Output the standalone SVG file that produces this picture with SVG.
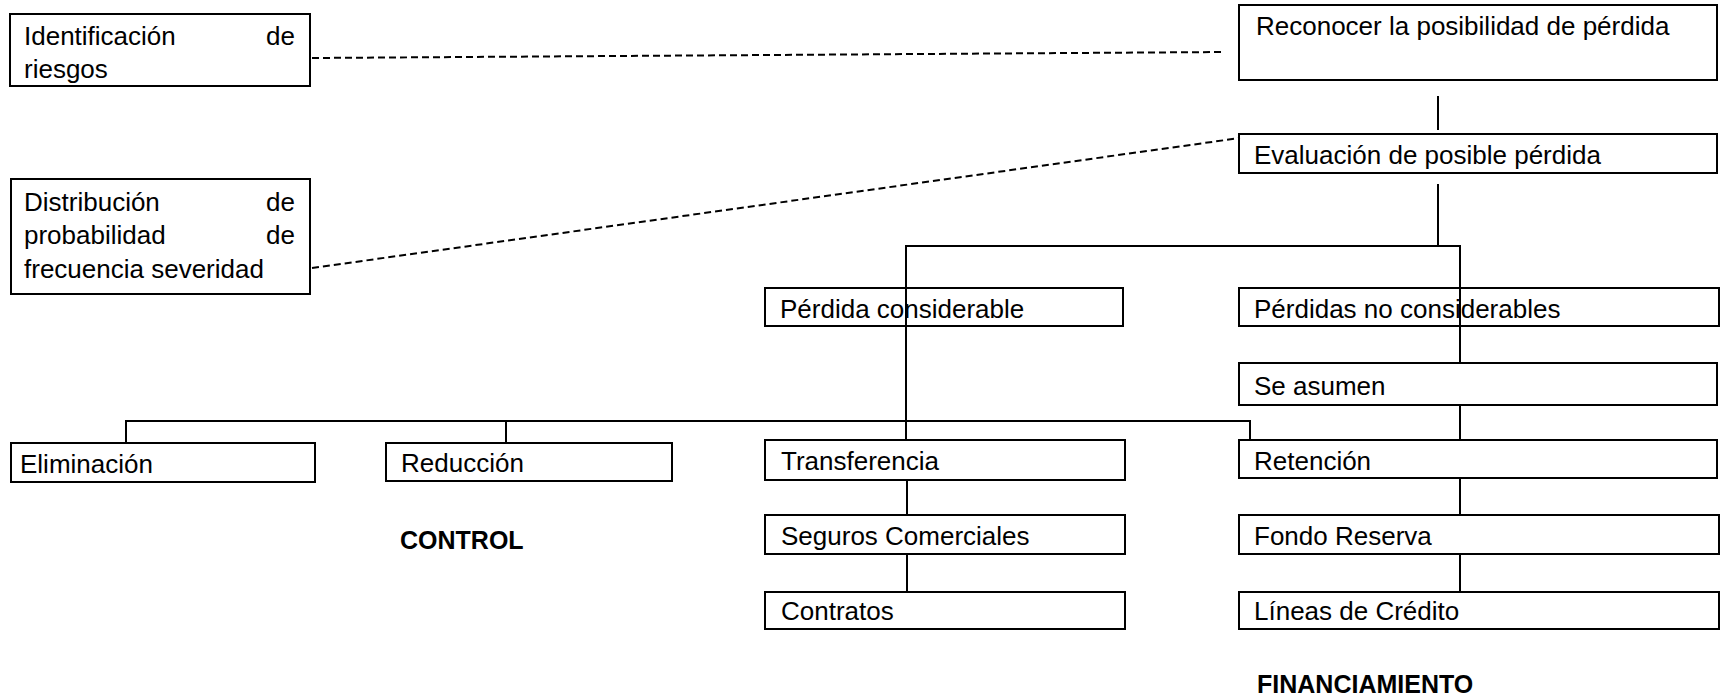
<svg xmlns="http://www.w3.org/2000/svg" width="1724" height="700" viewBox="0 0 1724 700">
<style>
  rect.box { fill: none; stroke: #000; stroke-width: 2; }
  text { font-family: "Liberation Sans", Arial, sans-serif; font-size: 26px; fill: #000; }
  text.bold { font-weight: bold; font-size: 25px; }
  .conn line, .conn polyline { stroke: #000; stroke-width: 2; fill: none; }
  .conn .dash { stroke-dasharray: 7 4; }
</style>
<rect width="1724" height="700" fill="#fff"/>
<g class="conn" id="connectors">
  <line class="dash" x1="312" y1="58" x2="1224" y2="52"/>
  <line class="dash" x1="312" y1="268" x2="1240" y2="138"/>
  <line x1="1438" y1="96" x2="1438" y2="130"/>
  <line x1="1438" y1="184" x2="1438" y2="246"/>
  <polyline points="906,440 906,246 1460,246 1460,363"/>
  <polyline points="126,443 126,421 1250,421 1250,440"/>
  <line x1="506" y1="421" x2="506" y2="443"/>
  <line x1="1460" y1="405" x2="1460" y2="440"/>
  <line x1="1460" y1="478" x2="1460" y2="515"/>
  <line x1="1460" y1="554" x2="1460" y2="592"/>
  <line x1="907" y1="480" x2="907" y2="515"/>
  <line x1="907" y1="554" x2="907" y2="592"/>
</g>
<g id="n-identificacion">
  <rect class="box" x="10" y="14" width="300" height="72"/>
  <text x="24" y="45">Identificación</text>
  <text x="295" y="45" text-anchor="end">de</text>
  <text x="24" y="78">riesgos</text>
</g>
<g id="n-distribucion">
  <rect class="box" x="11" y="179" width="299" height="115"/>
  <text x="24" y="211">Distribución</text>
  <text x="295" y="211" text-anchor="end">de</text>
  <text x="24" y="244">probabilidad</text>
  <text x="295" y="244" text-anchor="end">de</text>
  <text x="24" y="278">frecuencia severidad</text>
</g>
<g id="n-reconocer">
  <rect class="box" x="1239" y="5" width="478" height="75"/>
  <text x="1256" y="35">Reconocer la posibilidad de pérdida</text>
</g>
<g id="n-evaluacion">
  <rect class="box" x="1239" y="134" width="478" height="39"/>
  <text x="1254" y="164">Evaluación de posible pérdida</text>
</g>
<g id="n-perdida-considerable">
  <rect class="box" x="765" y="288" width="358" height="38"/>
  <text x="780" y="318">Pérdida considerable</text>
</g>
<g id="n-perdidas-no-considerables">
  <rect class="box" x="1239" y="288" width="480" height="38"/>
  <text x="1254" y="318">Pérdidas no considerables</text>
</g>
<g id="n-se-asumen">
  <rect class="box" x="1239" y="363" width="478" height="42"/>
  <text x="1254" y="395">Se asumen</text>
</g>
<g id="n-eliminacion">
  <rect class="box" x="11" y="443" width="304" height="39"/>
  <text x="20" y="473">Eliminación</text>
</g>
<g id="n-reduccion">
  <rect class="box" x="386" y="443" width="286" height="38"/>
  <text x="401" y="472">Reducción</text>
</g>
<g id="n-transferencia">
  <rect class="box" x="765" y="440" width="360" height="40"/>
  <text x="781" y="470">Transferencia</text>
</g>
<g id="n-retencion">
  <rect class="box" x="1239" y="440" width="478" height="38"/>
  <text x="1254" y="470">Retención</text>
</g>
<g id="n-seguros">
  <rect class="box" x="765" y="515" width="360" height="39"/>
  <text x="781" y="545">Seguros Comerciales</text>
</g>
<g id="n-fondo">
  <rect class="box" x="1239" y="515" width="480" height="39"/>
  <text x="1254" y="545">Fondo Reserva</text>
</g>
<g id="n-contratos">
  <rect class="box" x="765" y="592" width="360" height="37"/>
  <text x="781" y="620">Contratos</text>
</g>
<g id="n-lineas">
  <rect class="box" x="1239" y="592" width="480" height="37"/>
  <text x="1254" y="620">Líneas de Crédito</text>
</g>
<g id="label-control">
  <text class="bold" x="400" y="549">CONTROL</text>
</g>
<g id="label-financiamiento">
  <text class="bold" x="1257" y="693">FINANCIAMIENTO</text>
</g>
</svg>
